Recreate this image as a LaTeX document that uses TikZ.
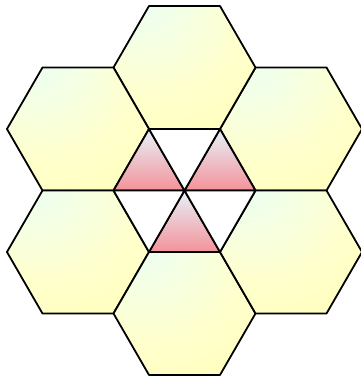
\documentclass[tikz,border=0pt]{standalone}
\usepackage{tikz}
\usetikzlibrary{calc}
\definecolor{glowcyan}{RGB}{232,255,252}
\definecolor{hexyellow}{RGB}{255,255,172}
\definecolor{tritop}{RGB}{230,242,250}
\definecolor{tripink}{RGB}{244,146,154}
\pgfdeclareradialshading{hexglow}{\pgfpoint{-20bp}{35bp}}{%
  color(0bp)=(glowcyan); color(35bp)=(hexyellow!60!white); color(70bp)=(hexyellow); color(110bp)=(hexyellow)}

\begin{document}
\begin{tikzpicture}[
    x=1pt, y=1pt, line join=round,
    hexcell/.style={draw=black, line width=1.8pt, shading=hexglow},
    pinktri/.style={draw=black, line width=1.8pt, top color=tritop, bottom color=tripink},
    whitetri/.style={draw=black, line width=1.8pt, fill=white}
  ]
  \useasboundingbox (0,0) rectangle (361,376);
  \coordinate (mid) at (184.5,185.5);
  % ring of hexagons
  \foreach \a in {30,90,...,330} {
    \path (mid) ++(\a:123) coordinate (h\a);
    \draw[hexcell] (h\a) ++(0:71) -- ++(120:71) -- ++(180:71)
      -- ++(240:71) -- ++(300:71) -- ++(0:71) -- cycle;
  }
  % centre triangles
  \foreach \k in {0,120,240} {
    \draw[pinktri] (mid) -- ++(\k:71) -- ++(\k+120:71) -- cycle;
  }
  \foreach \k in {60,180,300} {
    \draw[whitetri] (mid) -- ++(\k:71) -- ++(\k+120:71) -- cycle;
  }
\end{tikzpicture}
\end{document}
